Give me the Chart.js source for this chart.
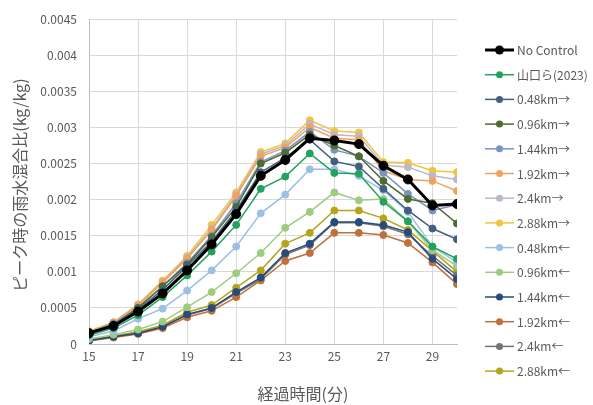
<!DOCTYPE html>
<html>
<head>
<meta charset="utf-8">
<script src="https://cdn.jsdelivr.net/npm/chart.js@4/dist/chart.umd.min.js"></script>
<style>
  html, body { margin: 0; padding: 0; background: #fff; }
  #wrap { position: relative; width: 593px; height: 405px; }
</style>
</head>
<body>
<div id="wrap"><canvas id="chart" width="593" height="405"></canvas></div>
<script>
const minutes = [15, 16, 17, 18, 19, 20, 21, 22, 23, 24, 25, 26, 27, 28, 29, 30];
const xTicks = [15, 17, 19, 21, 23, 25, 27, 29];
const yTicks = [0, 0.0005, 0.001, 0.0015, 0.002, 0.0025, 0.003, 0.0035, 0.004, 0.0045];

const seriesNames = ['No Control', '山口ら(2023)', '0.48km→', '0.96km→', '1.44km→', '1.92km→', '2.4km→', '2.88km→',
  '0.48km←', '0.96km←', '1.44km←', '1.92km←', '2.4km←', '2.88km←'];
const seriesColors = ['#000000', '#23A25F', '#41607F', '#4F6B2F', '#7A93C2', '#F3A15E', '#BDB8C6', '#F2C43F',
  '#9CC0E4', '#9DCB80', '#264B7C', '#C0703C', '#747474', '#B5A51E'];

const noControl  = [0.00015, 0.00025, 0.00045, 0.0007, 0.00102, 0.00138, 0.0018, 0.00233, 0.00255, 0.00285, 0.00282, 0.00277, 0.00247, 0.00228, 0.00192, 0.00194];
const yamaguchi  = [0.00012, 0.00022, 0.0004, 0.00065, 0.00095, 0.00128, 0.00165, 0.00215, 0.00232, 0.00264, 0.00237, 0.00236, 0.00197, 0.0017, 0.00135, 0.00118];
const fwd048     = [0.00015, 0.00027, 0.00048, 0.00075, 0.00108, 0.00142, 0.00185, 0.00238, 0.00258, 0.00283, 0.00253, 0.00246, 0.00215, 0.00185, 0.0016, 0.00145];
const fwd096     = [0.00016, 0.00027, 0.0005, 0.0008, 0.0011, 0.00148, 0.0019, 0.0025, 0.00265, 0.0029, 0.00275, 0.0026, 0.00226, 0.00201, 0.00195, 0.00167];
const fwd144     = [0.00016, 0.00028, 0.0005, 0.0008, 0.00112, 0.0015, 0.00195, 0.00252, 0.00268, 0.00294, 0.00269, 0.0026, 0.00237, 0.00208, 0.00185, 0.00193];
const fwd192     = [0.00017, 0.0003, 0.00053, 0.00085, 0.00118, 0.00158, 0.00205, 0.0026, 0.00272, 0.003, 0.00285, 0.00283, 0.0024, 0.00228, 0.00226, 0.00212];
const fwd240     = [0.00017, 0.0003, 0.00054, 0.00086, 0.0012, 0.0016, 0.00207, 0.00263, 0.00275, 0.00305, 0.0029, 0.00288, 0.00248, 0.00245, 0.00233, 0.00228];
const fwd288     = [0.00018, 0.0003, 0.00055, 0.00088, 0.00122, 0.00165, 0.0021, 0.00266, 0.00278, 0.0031, 0.00295, 0.00293, 0.00252, 0.00251, 0.0024, 0.00238];
const back048    = [0.0001, 0.00018, 0.00035, 0.00049, 0.00074, 0.00102, 0.00135, 0.00181, 0.00207, 0.00242, 0.00242, 0.00233, 0.00213, 0.00183, 0.00135, 0.00113];
const back096    = [0.00007, 0.00013, 0.0002, 0.00031, 0.00051, 0.00072, 0.00098, 0.00126, 0.00161, 0.00183, 0.0021, 0.00199, 0.00201, 0.0017, 0.0013, 0.00108];
const back144    = [0.00005, 0.0001, 0.00015, 0.00024, 0.00041, 0.0005, 0.00072, 0.00092, 0.00126, 0.00139, 0.00169, 0.00169, 0.00165, 0.00155, 0.00118, 0.0009];
const back192    = [0.00004, 0.00009, 0.00014, 0.00022, 0.00037, 0.00046, 0.00065, 0.00088, 0.00115, 0.00126, 0.00154, 0.00154, 0.00151, 0.0014, 0.00113, 0.00083];
const back240    = [0.00005, 0.0001, 0.00015, 0.00023, 0.0004, 0.00049, 0.0007, 0.0009, 0.00124, 0.00137, 0.00168, 0.00168, 0.00163, 0.00152, 0.00122, 0.00095];
const back288    = [0.00006, 0.00011, 0.00017, 0.00026, 0.00044, 0.00054, 0.00078, 0.00102, 0.00139, 0.00154, 0.00185, 0.00185, 0.00174, 0.00158, 0.00129, 0.001];

const seriesValues = [noControl, yamaguchi, fwd048, fwd096, fwd144, fwd192, fwd240, fwd288,
  back048, back096, back144, back192, back240, back288];

const xTitle = '経過時間(分)';
const yTitle = 'ピーク時の雨水混合比(kg/kg)';
const FONT = "'Noto Sans CJK JP', 'Noto Sans', sans-serif";
const TEXT = '#595959';

const datasets = seriesValues.map((vals, i) => {
  const main = i === 0;
  return {
    label: seriesNames[i],
    data: vals.map((v, k) => ({ x: minutes[k], y: v })),
    borderColor: seriesColors[i],
    backgroundColor: seriesColors[i],
    pointBackgroundColor: seriesColors[i],
    pointBorderColor: seriesColors[i],
    borderWidth: main ? 3 : 1.5,
    pointRadius: main ? 4.5 : 3.5,
    pointBorderWidth: 1,
    tension: 0
  };
});

// legend on the right + axis titles, drawn on the canvas
const decorations = {
  id: 'decorations',
  afterDraw(chart) {
    const ctx = chart.ctx;
    ctx.save();
    ctx.fillStyle = TEXT;
    ctx.font = '16px ' + FONT;
    ctx.textAlign = 'center';
    ctx.textBaseline = 'middle';
    ctx.fillText(xTitle, 303, 394);
    ctx.translate(20, 185);
    ctx.rotate(-Math.PI / 2);
    ctx.fillText(yTitle, 0, 0);
    ctx.restore();

    ctx.save();
    ctx.font = '12px ' + FONT;
    ctx.textBaseline = 'middle';
    ctx.textAlign = 'left';
    chart.data.datasets.forEach((ds, i) => {
      const y = 50 + i * 24.7;
      ctx.strokeStyle = ds.borderColor;
      ctx.lineWidth = ds.borderWidth;
      ctx.beginPath();
      ctx.moveTo(485, y);
      ctx.lineTo(514, y);
      ctx.stroke();
      ctx.fillStyle = ds.pointBackgroundColor;
      ctx.beginPath();
      ctx.arc(499.5, y, ds.pointRadius, 0, Math.PI * 2);
      ctx.fill();
      ctx.fillStyle = TEXT;
      ctx.fillText(ds.label, 517, y + 0.5);
    });
    ctx.restore();
  }
};

new Chart(document.getElementById('chart'), {
  type: 'line',
  data: { datasets },
  plugins: [decorations],
  options: {
    responsive: false,
    animation: false,
    layout: { padding: { top: 16, right: 136, bottom: 0, left: 0 } },
    plugins: { legend: { display: false }, tooltip: { enabled: false } },
    scales: {
      x: {
        type: 'linear',
        min: 15,
        max: 30,
        afterBuildTicks: s => { s.ticks = xTicks.map(v => ({ value: v })); },
        afterFit: s => { s.height = 61; },
        grid: { color: '#D9D9D9', drawTicks: false },
        border: { color: '#BFBFBF' },
        ticks: { color: TEXT, font: { family: FONT, size: 12 }, padding: 5, maxRotation: 0 }
      },
      y: {
        min: 0,
        max: 0.0045,
        afterBuildTicks: s => { s.ticks = yTicks.map(v => ({ value: v })); },
        afterFit: s => { s.width = 89; },
        grid: { color: '#D9D9D9', drawTicks: false },
        border: { color: '#BFBFBF' },
        ticks: {
          color: TEXT,
          font: { family: FONT, size: 12 },
          padding: 12,
          callback: v => String(Number(v.toFixed(4)))
        }
      }
    }
  }
});
</script>
</body>
</html>
